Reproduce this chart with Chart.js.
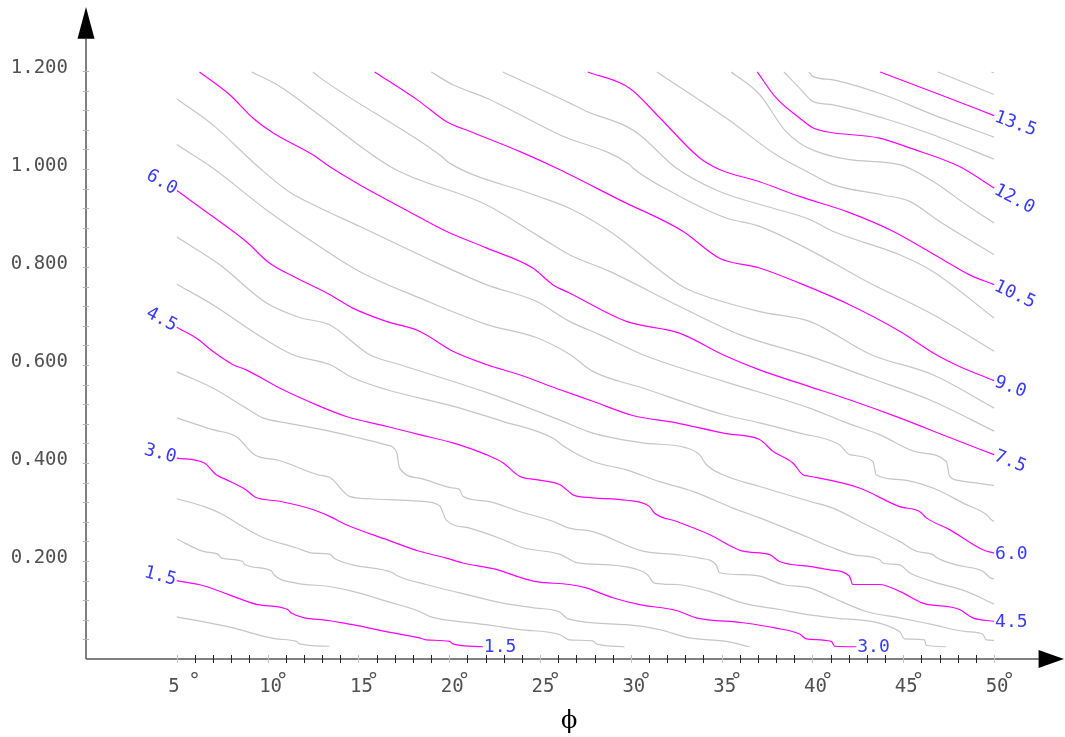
<!DOCTYPE html>
<html>
<head>
<meta charset="utf-8">
<script src="https://cdn.jsdelivr.net/npm/chart.js@4/dist/chart.umd.min.js"></script>
<style>
  html, body { margin: 0; padding: 0; background: #fff; }
  #wrap { width: 1065px; height: 737px; }
</style>
</head>
<body>
<div id="wrap"><canvas id="contourChart" width="1065" height="737"></canvas></div>
<script>
// traced contour lines: [phi (deg), value]
const c10 = [[5,0.086],[7.92,0.065],[10.47,0.041],[11.58,0.036],[11.75,0.031],[13.4,0.026]];
const c15 = [[5,0.160],[6.43,0.150],[7.90,0.131],[9.46,0.111],[11.11,0.101],[11.30,0.094],[13.41,0.078],[14.69,0.070],[16.53,0.056],[18.36,0.043],[18.73,0.039],[20.02,0.036],[20.2,0.031],[21.85,0.025]];
const c20 = [[5,0.245],[6.52,0.219],[7.26,0.214],[7.46,0.206],[8.63,0.199],[8.73,0.193],[10.2,0.180],[10.34,0.172],[11.57,0.155],[13.41,0.148],[14.69,0.138],[16.53,0.118],[18.36,0.097],[18.91,0.087],[19.47,0.082],[22.04,0.070],[23.87,0.060],[26.07,0.050],[26.62,0.039],[27.91,0.037],[28.1,0.031],[29.65,0.025]];
const c25 = [[5,0.327],[6.52,0.311],[7.53,0.295],[8.45,0.274],[9.74,0.248],[11.57,0.227],[12.49,0.216],[13.41,0.214],[13.69,0.205],[14.69,0.192],[16.89,0.176],[17.08,0.171],[18.73,0.152],[20.57,0.135],[22.95,0.114],[24.79,0.104],[26.07,0.096],[26.53,0.082],[29.75,0.070],[31.58,0.060],[33.23,0.043],[35.25,0.036],[36.53,0.025]];
const c30 = [[5,0.410],[6.52,0.400],[7.17,0.376],[7.72,0.366],[8.82,0.345],[9.33,0.330],[10.66,0.322],[12.49,0.305],[13.41,0.291],[14.33,0.274],[16.53,0.244],[18.36,0.220],[19.83,0.206],[20.75,0.196],[22.68,0.182],[23.87,0.167],[24.79,0.158],[26.62,0.152],[27.54,0.145],[29.01,0.125],[30.48,0.111],[32.5,0.099],[33.6,0.084],[36.17,0.074],[38.0,0.063],[39.29,0.051],[39.66,0.041],[41.04,0.036],[41.22,0.026],[42.41,0.025]];
const c35 = [[5,0.492],[6.98,0.468],[8.27,0.454],[9.28,0.417],[10.66,0.405],[12.76,0.376],[13.41,0.371],[13.59,0.366],[14.51,0.332],[15.61,0.327],[18.36,0.322],[19.47,0.313],[19.83,0.284],[21.12,0.267],[22.95,0.244],[24.05,0.227],[26.07,0.214],[27.08,0.196],[28.83,0.192],[30.48,0.181],[30.92,0.172],[31.3,0.155],[32.5,0.152],[34.33,0.138],[36.17,0.114],[38.19,0.101],[39.84,0.090],[41.12,0.084],[44.8,0.056],[45.07,0.041],[46.17,0.039],[46.26,0.028],[47.37,0.025]];
const c40 = [[5,0.586],[6.98,0.553],[8.82,0.512],[9.74,0.492],[11.02,0.482],[13.41,0.465],[14.69,0.454],[16.53,0.437],[17.1,0.423],[17.26,0.390],[18.36,0.369],[20.2,0.349],[20.57,0.346],[20.75,0.332],[22.04,0.322],[23.87,0.301],[25.7,0.281],[26.62,0.267],[27.91,0.260],[30.66,0.220],[32.5,0.213],[33.78,0.206],[34.7,0.192],[34.88,0.176],[36.17,0.172],[37.09,0.169],[38.37,0.152],[39.84,0.145],[41.12,0.125],[42.96,0.097],[44.8,0.084],[46.63,0.070],[48.47,0.056],[49.37,0.051],[49.57,0.039],[50,0.038]];
const c45 = [[5,0.677],[6.07,0.655],[6.98,0.628],[8.08,0.601],[8.82,0.590],[10.66,0.553],[12.86,0.516],[14.33,0.495],[16.53,0.475],[18.36,0.458],[20.2,0.441],[22.04,0.417],[22.94,0.401],[23.87,0.373],[24.79,0.366],[26.07,0.356],[26.45,0.346],[26.81,0.335],[27.91,0.329],[29.75,0.324],[31.03,0.311],[31.3,0.298],[32.5,0.281],[34.33,0.254],[36.17,0.220],[37.64,0.213],[38.19,0.199],[39.84,0.189],[40.94,0.182],[42.04,0.169],[42.22,0.152],[43.69,0.152],[44.8,0.138],[46.08,0.114],[48.1,0.101],[48.83,0.084],[50,0.077]];
const c50 = [[5,0.765],[6.98,0.723],[9.74,0.655],[11.39,0.621],[13.41,0.601],[14.69,0.574],[16.53,0.550],[20.2,0.516],[22.95,0.485],[25.7,0.451],[26.35,0.433],[27.91,0.403],[29.75,0.386],[31.58,0.362],[33.41,0.342],[35.62,0.308],[37.09,0.288],[39.84,0.247],[41.12,0.227],[42.22,0.213],[43.69,0.203],[43.88,0.196],[44.8,0.192],[45.35,0.176],[46.63,0.158],[48.47,0.138],[50,0.112]];
const c55 = [[5,0.861],[7.35,0.805],[9.92,0.727],[11.76,0.697],[13.41,0.682],[15.61,0.621],[17.26,0.601],[22.04,0.544],[26.07,0.488],[27.91,0.461],[30.66,0.441],[33.05,0.431],[33.78,0.417],[34.15,0.397],[35.07,0.376],[37.09,0.352],[39.84,0.322],[41.12,0.308],[42.96,0.274],[44.8,0.240],[45.72,0.220],[46.63,0.213],[46.82,0.207],[47.92,0.192],[49.38,0.179],[49.9,0.164],[50,0.164]];
const c60 = [[5,0.956],[6.98,0.903],[8.82,0.852],[10.1,0.808],[11.57,0.778],[13.41,0.744],[14.69,0.716],[16.53,0.689],[18.36,0.669],[20.2,0.628],[22.04,0.601],[23.87,0.580],[26.07,0.550],[27.91,0.526],[30.11,0.497],[32.5,0.482],[35.25,0.460],[37.09,0.448],[37.82,0.424],[38.92,0.400],[39.47,0.376],[39.84,0.373],[42.59,0.349],[44.8,0.311],[45.9,0.301],[46.27,0.288],[47.55,0.264],[49.38,0.223],[50,0.216]];
const c65 = [[5,1.050],[6.98,1.002],[9.92,0.917],[12.86,0.842],[15.06,0.791],[18.36,0.737],[22.04,0.683],[24.79,0.656],[26.62,0.622],[27.91,0.587],[30.66,0.553],[35.07,0.499],[37.09,0.482],[39.29,0.461],[41.49,0.437],[42.04,0.417],[43.33,0.403],[43.51,0.376],[44.8,0.366],[46.63,0.349],[48.47,0.315],[49.57,0.295],[49.85,0.284],[50,0.281]];
const c70 = [[5,1.143],[6.98,1.090],[9.56,1.002],[11.2,0.953],[12.86,0.921],[15.06,0.883],[18.36,0.825],[22.04,0.764],[24.79,0.730],[26.62,0.689],[28.28,0.662],[30.66,0.621],[35.07,0.567],[39.84,0.512],[41.67,0.485],[43.69,0.458],[45.9,0.421],[47.37,0.403],[47.55,0.373],[48.1,0.364],[50,0.354]];
const c75 = [[6.25,1.198],[7.9,1.152],[9.19,1.104],[10.29,1.074],[12.49,1.029],[13.41,1.005],[15.06,0.968],[17.44,0.920],[19.83,0.873],[22.04,0.839],[24.6,0.798],[25.7,0.764],[26.62,0.747],[29.75,0.689],[32.68,0.665],[35.07,0.621],[37.09,0.590],[39.84,0.556],[42.04,0.529],[44.8,0.492],[47.55,0.452],[50,0.417]];
const c80 = [[9.13,1.198],[10.66,1.169],[12.49,1.120],[16.89,1.002],[22.04,0.927],[24.97,0.862],[26.62,0.825],[28.83,0.791],[32.5,0.723],[35.99,0.662],[39.84,0.618],[43.14,0.574],[46.45,0.529],[50,0.465]];
const c85 = [[12.49,1.198],[12.86,1.187],[19.47,1.029],[20.02,1.012],[24.6,0.948],[26.62,0.920],[28.83,0.873],[32.68,0.764],[33.41,0.750],[37.09,0.709],[39.84,0.689],[43.24,0.621],[46.63,0.580],[50,0.512]];
const c90 = [[15.89,1.198],[18.36,1.138],[19.83,1.097],[21.12,1.077],[23.87,1.036],[26.07,0.999],[29.38,0.937],[32.86,0.873],[34.88,0.818],[37.09,0.798],[39.29,0.767],[42.04,0.723],[44.8,0.669],[46.82,0.621],[48.1,0.597],[50,0.568]];
const c95 = [[19.01,1.198],[20.2,1.172],[22.04,1.145],[26.07,1.070],[29.93,1.009],[30.11,1.002],[32.5,0.948],[35.25,0.900],[37.09,0.883],[39.84,0.835],[42.96,0.771],[46.63,0.703],[50,0.628]];
const c100 = [[22.95,1.198],[26.62,1.135],[27.54,1.118],[29.75,1.087],[30.48,1.070],[32.5,1.002],[34.88,0.954],[37.45,0.924],[39.84,0.897],[41.12,0.873],[44.8,0.825],[46.63,0.791],[50,0.696]];
const c105 = [[27.63,1.198],[29.93,1.165],[31.58,1.105],[33.78,1.023],[34.88,0.999],[37.09,0.974],[39.29,0.944],[42.04,0.911],[44.43,0.873],[47.0,0.819],[48.65,0.784],[50,0.764]];
const c110 = [[31.43,1.198],[35.25,1.104],[38.0,1.029],[39.84,0.992],[41.12,0.968],[43.88,0.947],[45.35,0.934],[47.0,0.893],[50,0.825]];
const c115 = [[35.53,1.198],[37.09,1.152],[38.46,1.080],[39.29,1.053],[40.21,1.036],[42.04,1.019],[44.8,1.009],[46.63,0.975],[48.47,0.927],[50,0.890]];
const c120 = [[36.96,1.198],[38.0,1.145],[39.29,1.104],[40.02,1.084],[40.76,1.076],[43.69,1.063],[45.35,1.043],[48.1,1.005],[50,0.961]];
const c125 = [[38.43,1.198],[39.29,1.165],[40.02,1.138],[41.12,1.131],[43.88,1.104],[46.63,1.070],[50,1.020]];
const c130 = [[39.8,1.198],[40.02,1.189],[41.12,1.182],[43.88,1.152],[46.63,1.111],[50,1.065]];
const c135 = [[43.73,1.198],[47.0,1.152],[50,1.109]];
const c140 = [[46.91,1.198],[50,1.152]];
const c145 = [[49.85,1.198],[50,1.196]];

const levels = [1.0, 1.5, 2.0, 2.5, 3.0, 3.5, 4.0, 4.5, 5.0, 5.5, 6.0, 6.5, 7.0, 7.5,
                8.0, 8.5, 9.0, 9.5, 10.0, 10.5, 11.0, 11.5, 12.0, 12.5, 13.0, 13.5, 14.0, 14.5];
const contourLines = [c10, c15, c20, c25, c30, c35, c40, c45, c50, c55, c60, c65, c70, c75,
                      c80, c85, c90, c95, c100, c105, c110, c115, c120, c125, c130, c135, c140, c145];
const labelledLevels = [1.5, 3.0, 4.5, 6.0, 7.5, 9.0, 10.5, 12.0, 13.5];

// labels at the start (left) and end (right / bottom) of lines, angle in degrees
const startLabels = [[6.0, '6.0', 30], [4.5, '4.5', 28], [3.0, '3.0', 15], [1.5, '1.5', 15]];
const endLabels = [[13.5, '13.5', 20], [12.0, '12.0', 28], [10.5, '10.5', 25], [9.0, '9.0', 20],
                   [7.5, '7.5', 22], [6.0, '6.0', 0], [4.5, '4.5', 0], [3.0, '3.0', 0], [1.5, '1.5', 0]];

const xTickLabels = [5, 10, 15, 20, 25, 30, 35, 40, 45, 50];
const yTickValues = [0.2, 0.4, 0.6, 0.8, 1.0, 1.2];
const yTickLabels = ['0.200', '0.400', '0.600', '0.800', '1.000', '1.200'];
const xAxisTitle = 'ϕ';
const xAxisTitleAt = 26.6;

const X_MAX = 53.85, Y_MAX = 1.3306;
const X_ARROW_BASE = 52.45, Y_ARROW_BASE = 1.266;

const decorPlugin = {
    id: 'decor',
    afterDatasetsDraw(chart) {
        const ctx = chart.ctx;
        const xs = chart.scales.x, ys = chart.scales.y;
        const x0 = xs.getPixelForValue(0), y0 = ys.getPixelForValue(0);
        ctx.save();

        // axis lines
        ctx.strokeStyle = '#555';
        ctx.lineWidth = 1.5;
        ctx.beginPath();
        ctx.moveTo(x0, y0);
        ctx.lineTo(xs.getPixelForValue(X_ARROW_BASE), y0);
        ctx.moveTo(x0, y0);
        ctx.lineTo(x0, ys.getPixelForValue(Y_ARROW_BASE));
        ctx.stroke();

        // arrow heads
        ctx.fillStyle = '#000';
        let xb = xs.getPixelForValue(X_ARROW_BASE), xt = xs.getPixelForValue(X_MAX);
        ctx.beginPath();
        ctx.moveTo(xb, y0 - 9); ctx.lineTo(xt, y0); ctx.lineTo(xb, y0 + 9); ctx.closePath();
        ctx.fill();
        let yb = ys.getPixelForValue(Y_ARROW_BASE), yt = ys.getPixelForValue(Y_MAX);
        ctx.beginPath();
        ctx.moveTo(x0 - 8.5, yb); ctx.lineTo(x0, yt); ctx.lineTo(x0 + 8.5, yb); ctx.closePath();
        ctx.fill();

        // y ticks every 0.04
        ctx.lineWidth = 1;
        ctx.strokeStyle = '#b0b0b0';
        ctx.beginPath();
        for (let k = 1; k <= 30; k++) {
            let py = Math.round(ys.getPixelForValue(k * 0.04)) + 0.5;
            ctx.moveTo(x0 - 3, py); ctx.lineTo(x0 + 3, py);
        }
        ctx.stroke();

        // x ticks every degree from 5 to 50
        for (let d = 5; d <= 50; d++) {
            let px = Math.round(xs.getPixelForValue(d)) + 0.5;
            ctx.strokeStyle = d % 5 === 0 ? '#c0c0c0' : '#222';
            ctx.beginPath();
            ctx.moveTo(px, y0 - 4); ctx.lineTo(px, y0 + 4);
            ctx.stroke();
        }

        // y tick labels
        ctx.fillStyle = '#505050';
        ctx.font = '19px "DejaVu Sans Mono"';
        ctx.textAlign = 'right';
        ctx.textBaseline = 'alphabetic';
        yTickValues.forEach((v, i) => {
            ctx.fillText(yTickLabels[i], x0 - 18, ys.getPixelForValue(v) + 2);
        });

        // x tick labels with a raised degree sign
        xTickLabels.forEach(v => {
            let px = xs.getPixelForValue(v);
            let txt = v < 10 ? v + ' ' : String(v);
            ctx.font = '19px "DejaVu Sans Mono"';
            ctx.textAlign = 'center';
            ctx.fillText(txt, px + 3, y0 + 33);
            let w = ctx.measureText(txt).width;
            ctx.font = '21px "DejaVu Sans"';
            ctx.textAlign = 'left';
            ctx.fillText('°', px + 3 + w / 2 - 5 + (v < 10 ? 3 : 0), y0 + 29);
        });

        // axis title
        ctx.fillStyle = '#000';
        ctx.font = '24px "DejaVu Serif"';
        ctx.textAlign = 'center';
        ctx.textBaseline = 'middle';
        ctx.fillText(xAxisTitle, xs.getPixelForValue(xAxisTitleAt), y0 + 63);

        // contour labels
        ctx.fillStyle = '#3a3af5';
        ctx.font = '18px "DejaVu Sans Mono"';
        ctx.textBaseline = 'middle';
        startLabels.forEach(([lev, txt, ang]) => {
            const pts = contourLines[levels.indexOf(lev)];
            const p = pts[0];
            ctx.save();
            ctx.translate(xs.getPixelForValue(p[0]) - 1, ys.getPixelForValue(p[1]));
            ctx.rotate(ang * Math.PI / 180);
            ctx.textAlign = 'right';
            ctx.fillText(txt, 0, 0);
            ctx.restore();
        });
        endLabels.forEach(([lev, txt, ang]) => {
            const pts = contourLines[levels.indexOf(lev)];
            const p = pts[pts.length - 1];
            ctx.save();
            ctx.translate(xs.getPixelForValue(p[0]) + 1, ys.getPixelForValue(p[1]) + 1);
            ctx.rotate(ang * Math.PI / 180);
            ctx.textAlign = 'left';
            ctx.fillText(txt, 0, 0);
            ctx.restore();
        });

        ctx.restore();
    }
};

const datasets = contourLines.map((pts, i) => {
    const major = labelledLevels.includes(levels[i]);
    return {
        label: String(levels[i]),
        data: pts.map(p => ({x: p[0], y: p[1]})),
        showLine: true,
        borderColor: major ? '#ff00ff' : '#c6c6c6',
        borderWidth: 1.2,
        pointRadius: 0,
        cubicInterpolationMode: 'monotone',
        fill: false,
        order: major ? 0 : 1
    };
});

const chart = new Chart(document.getElementById('contourChart'), {
    type: 'scatter',
    data: { datasets: datasets },
    options: {
        responsive: false,
        animation: false,
        events: [],
        layout: { padding: { left: 86, right: 1, top: 7, bottom: 78 } },
        scales: {
            x: { type: 'linear', min: 0, max: X_MAX, display: false },
            y: { type: 'linear', min: 0, max: Y_MAX, display: false }
        },
        plugins: { legend: { display: false }, tooltip: { enabled: false } }
    },
    plugins: [decorPlugin]
});
</script>
</body>
</html>
